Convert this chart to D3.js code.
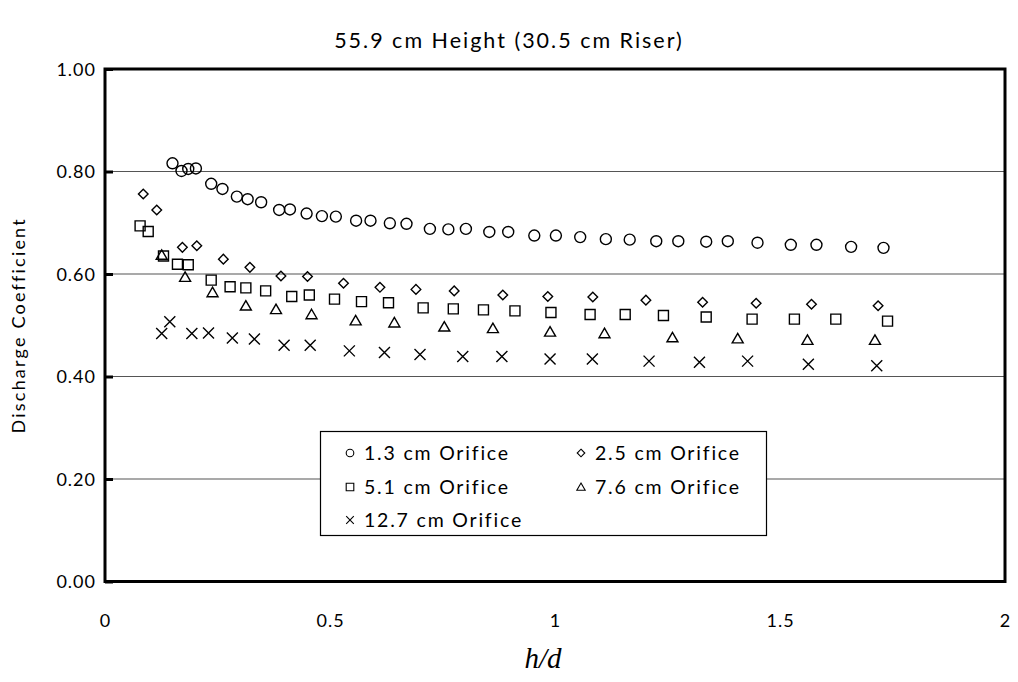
<!DOCTYPE html>
<html>
<head>
<meta charset="utf-8">
<script src="https://cdn.jsdelivr.net/npm/d3@7"></script>
<style>
  html, body { margin: 0; padding: 0; background: #fff; }
  svg text { font-family: Lato, "Open Sans", sans-serif; fill: #000; }
</style>
</head>
<body>
<svg id="chart" width="1018" height="682"></svg>
<script>
// Discharge coefficient vs h/d for five orifice sizes
const title = "55.9 cm Height (30.5 cm Riser)";
const yLabel = "Discharge Coefficient";
const xTicks = [0, 0.5, 1, 1.5, 2];
const yTicks = [0, 0.2, 0.4, 0.6, 0.8, 1.0];

const seriesNames = ["1.3 cm Orifice", "2.5 cm Orifice", "5.1 cm Orifice", "7.6 cm Orifice", "12.7 cm Orifice"];
const seriesShapes = ["circle", "diamond", "square", "triangle", "cross"];

const hd13 = [0.150, 0.170, 0.185, 0.202, 0.236, 0.261, 0.293, 0.317, 0.347, 0.387, 0.411, 0.448, 0.482, 0.513, 0.558, 0.590, 0.633, 0.670, 0.722, 0.763, 0.802, 0.854, 0.896, 0.954, 1.002, 1.056, 1.113, 1.166, 1.225, 1.274, 1.336, 1.384, 1.450, 1.524, 1.581, 1.658, 1.730];
const cd13 = [0.816, 0.801, 0.805, 0.806, 0.776, 0.766, 0.751, 0.746, 0.740, 0.725, 0.726, 0.718, 0.713, 0.712, 0.704, 0.704, 0.699, 0.698, 0.688, 0.687, 0.688, 0.682, 0.682, 0.675, 0.675, 0.672, 0.668, 0.667, 0.664, 0.664, 0.663, 0.664, 0.661, 0.657, 0.657, 0.653, 0.651];

const hd25 = [0.085, 0.115, 0.172, 0.204, 0.263, 0.322, 0.391, 0.450, 0.530, 0.611, 0.691, 0.776, 0.884, 0.984, 1.084, 1.202, 1.328, 1.447, 1.570, 1.718];
const cd25 = [0.756, 0.725, 0.652, 0.655, 0.629, 0.613, 0.596, 0.595, 0.582, 0.574, 0.570, 0.567, 0.559, 0.556, 0.555, 0.549, 0.545, 0.543, 0.541, 0.538];

const hd51 = [0.078, 0.096, 0.130, 0.161, 0.185, 0.236, 0.278, 0.313, 0.357, 0.415, 0.454, 0.510, 0.570, 0.630, 0.707, 0.774, 0.841, 0.911, 0.991, 1.078, 1.156, 1.241, 1.336, 1.438, 1.532, 1.624, 1.739];
const cd51 = [0.694, 0.683, 0.635, 0.619, 0.618, 0.588, 0.575, 0.573, 0.567, 0.556, 0.559, 0.551, 0.546, 0.544, 0.534, 0.532, 0.530, 0.528, 0.525, 0.521, 0.521, 0.519, 0.516, 0.512, 0.512, 0.512, 0.508];

const hd76 = [0.126, 0.178, 0.239, 0.313, 0.380, 0.459, 0.557, 0.643, 0.754, 0.862, 0.989, 1.110, 1.261, 1.406, 1.561, 1.711];
const cd76 = [0.637, 0.594, 0.564, 0.538, 0.531, 0.521, 0.509, 0.505, 0.497, 0.494, 0.487, 0.484, 0.476, 0.474, 0.471, 0.471];

const hd127 = [0.126, 0.144, 0.193, 0.230, 0.283, 0.332, 0.398, 0.456, 0.543, 0.621, 0.700, 0.795, 0.882, 0.989, 1.083, 1.209, 1.321, 1.428, 1.563, 1.715];
const cd127 = [0.484, 0.507, 0.484, 0.485, 0.475, 0.473, 0.461, 0.461, 0.450, 0.447, 0.443, 0.439, 0.439, 0.434, 0.434, 0.430, 0.428, 0.430, 0.424, 0.421];

const seriesX = [hd13, hd25, hd51, hd76, hd127];
const seriesY = [cd13, cd25, cd51, cd76, cd127];

const svg = d3.select("#chart");
const plot = { left: 105, right: 1005, top: 69, bottom: 581.5 };

const x = d3.scaleLinear().domain([0, 2]).range([plot.left, plot.right]);
const y = d3.scaleLinear().domain([0, 1]).range([plot.bottom, plot.top]);

// marker outline paths centred on the origin
function markerPath(shape, s) {
  const p = d3.path();
  if (shape === "circle") {
    p.moveTo(s, 0); p.arc(0, 0, s, 0, 2 * Math.PI);
  } else if (shape === "square") {
    p.rect(-s, -s, 2 * s, 2 * s);
  } else if (shape === "diamond") {
    p.moveTo(0, -s); p.lineTo(s, 0); p.lineTo(0, s); p.lineTo(-s, 0); p.closePath();
  } else if (shape === "triangle") {
    p.moveTo(0, -s * 1.05); p.lineTo(s * 1.1, s * 0.85); p.lineTo(-s * 1.1, s * 0.85); p.closePath();
  } else if (shape === "cross") {
    p.moveTo(-s, -s); p.lineTo(s, s); p.moveTo(s, -s); p.lineTo(-s, s);
  }
  return p.toString();
}
const markerSize = { circle: 5.5, diamond: 4.8, square: 5, triangle: 5, cross: 5.5 };

// gridlines
svg.append("g")
  .selectAll("line")
  .data(yTicks.filter(t => t > 0 && t < 1))
  .join("line")
  .attr("x1", plot.left).attr("x2", plot.right)
  .attr("y1", d => y(d)).attr("y2", d => y(d))
  .attr("stroke", "#555").attr("stroke-width", 1.2);

// y axis tick labels and inward ticks
const yAxis = d3.axisLeft(y).tickValues(yTicks).tickFormat(d3.format(".2f")).tickSize(-8).tickPadding(9);
const gy = svg.append("g").attr("transform", `translate(${plot.left},0)`).call(yAxis);
gy.select(".domain").remove();
gy.selectAll(".tick line").attr("stroke", "#000").attr("stroke-width", 3);
gy.selectAll(".tick text").attr("font-size", 18).attr("font-family", "Lato, sans-serif").attr("letter-spacing", 1).attr("dy", "0.35em");

// x axis tick labels
const xAxis = d3.axisBottom(x).tickValues(xTicks).tickFormat(d => d3.format("")(d)).tickSize(0).tickPadding(33);
const gx = svg.append("g").attr("transform", `translate(0,${plot.bottom})`).call(xAxis);
gx.select(".domain").remove();
gx.selectAll(".tick text").attr("font-size", 18).attr("font-family", "Lato, sans-serif").attr("letter-spacing", 1);

// data markers
seriesNames.forEach((name, i) => {
  const shape = seriesShapes[i];
  const pts = seriesX[i].map((v, k) => [v, seriesY[i][k]]);
  svg.append("g")
    .selectAll("path")
    .data(pts)
    .join("path")
    .attr("transform", d => `translate(${x(d[0])},${y(d[1])})`)
    .attr("d", markerPath(shape, markerSize[shape]))
    .attr("fill", "none")
    .attr("stroke", "#000")
    .attr("stroke-width", 1.4);
});

// legend
const lg = svg.append("g");
lg.append("rect")
  .attr("x", 320.5).attr("y", 431.5).attr("width", 446).attr("height", 104)
  .attr("fill", "#fff").attr("stroke", "#000").attr("stroke-width", 1.2);
const legendPos = [[350, 453], [581, 453], [350, 487], [581, 487], [350, 520]];
seriesNames.forEach((name, i) => {
  const [lx, ly] = legendPos[i];
  lg.append("path")
    .attr("transform", `translate(${lx},${ly})`)
    .attr("d", markerPath(seriesShapes[i], 3.8))
    .attr("fill", "none").attr("stroke", "#000").attr("stroke-width", 1.1);
  lg.append("text")
    .attr("x", lx + 14).attr("y", ly).attr("dy", "0.36em")
    .attr("font-size", 19.5).attr("letter-spacing", 1.8)
    .text(name);
});

// plot frame
svg.append("rect")
  .attr("x", plot.left).attr("y", plot.top)
  .attr("width", plot.right - plot.left).attr("height", plot.bottom - plot.top)
  .attr("fill", "none").attr("stroke", "#000").attr("stroke-width", 3);

// title
svg.append("text")
  .attr("x", 509).attr("y", 40).attr("dy", "0.35em")
  .attr("text-anchor", "middle").attr("font-size", 21.5).attr("letter-spacing", 2)
  .text(title);

// axis titles
svg.append("text")
  .attr("transform", `translate(19,${(plot.top + plot.bottom) / 2}) rotate(-90)`)
  .attr("text-anchor", "middle").attr("dy", "0.35em")
  .attr("font-size", 18).attr("letter-spacing", 2.2)
  .text(yLabel);

const xl = svg.append("text")
  .attr("x", 543).attr("y", 658).attr("dy", "0.35em")
  .attr("text-anchor", "middle")
  .style("font-family", "'Liberation Serif', 'Times New Roman', serif")
  .style("font-style", "italic").attr("font-size", 29);
xl.append("tspan").text("h");
xl.append("tspan").text("/");
xl.append("tspan").text("d");
</script>
</body>
</html>
